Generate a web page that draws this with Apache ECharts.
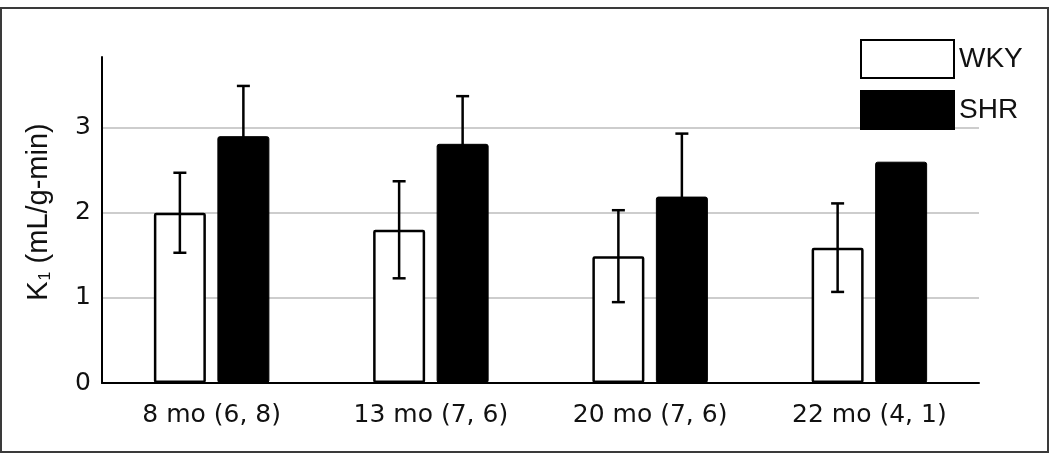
<!DOCTYPE html>
<html>
<head>
<meta charset="utf-8">
<script src="https://cdn.jsdelivr.net/npm/echarts@6/dist/echarts.min.js"></script>
<style>
html,body{margin:0;padding:0;background:#fff;}
#chart{width:1050px;height:455px;}
</style>
</head>
<body>
<div id="chart"></div>
<script>
// ---- data ----
const categories = ['8 mo (6, 8)', '13 mo (7, 6)', '20 mo (7, 6)', '22 mo (4, 1)'];
const seriesNames = ['WKY', 'SHR'];
const wkyValues = [2.00, 1.80, 1.49, 1.59];
const shrValues = [2.90, 2.81, 2.19, 2.60];
const wkyErrors = [0.47, 0.57, 0.54, 0.52];
const shrErrors = [0.59, 0.56, 0.74, 0];
const yTicks = [0, 1, 2, 3];

// ---- layout ----
const BAR_W = 52;
const BAR_GAP = 11.5;
const Y_MAX = 3.83;

const chart = echarts.init(document.getElementById('chart'), null, {renderer: 'canvas'});

function errorSeries(name, values, errors, side) {
  const data = values.map((v, i) => [i, v, errors[i]]);
  return {
    type: 'custom',
    name: name + ' err',
    z: 10,
    silent: true,
    data: data,
    renderItem: function (params, api) {
      const i = api.value(0), v = api.value(1), e = api.value(2);
      if (!e) return null;
      const off = side * (BAR_W + BAR_GAP) / 2;
      const top = api.coord([i, v + e]);
      const bot = api.coord([i, v - e]);
      const x = top[0] + off;
      const cap = 6.5;
      const st = {stroke: '#000', lineWidth: 2.5, fill: null};
      return {
        type: 'group',
        children: [
          {type: 'line', shape: {x1: x, y1: top[1], x2: x, y2: bot[1]}, style: st},
          {type: 'line', shape: {x1: x - cap, y1: top[1], x2: x + cap, y2: top[1]}, style: st},
          {type: 'line', shape: {x1: x - cap, y1: bot[1], x2: x + cap, y2: bot[1]}, style: st}
        ]
      };
    }
  };
}

const option = {
  backgroundColor: '#fff',
  animation: false,
  grid: {left: 102, right: 71, top: 57, bottom: 72},
  legend: {
    orient: 'vertical',
    left: 855,
    top: 34,
    itemWidth: 93,
    itemHeight: 38,
    itemGap: 11,
    icon: 'rect',
    data: seriesNames,
    textStyle: {fontFamily: 'Liberation Sans', fontSize: 28, color: '#111', padding: [-3, 0, 0, 0]}
  },
  xAxis: {
    type: 'category',
    data: categories,
    axisLine: {lineStyle: {color: '#000', width: 2}},
    axisTick: {show: false},
    axisLabel: {fontFamily: 'DejaVu Sans', fontSize: 25, color: '#111', margin: 20}
  },
  yAxis: {
    type: 'value',
    min: 0,
    max: Y_MAX,
    interval: 1,
    name: '{k|K}{s|1}{k| (mL/g-min)}',
    nameLocation: 'middle',
    nameGap: 46,
    nameRotate: 90,
    nameTextStyle: {
      fontFamily: 'Liberation Sans',
      fontSize: 29,
      color: '#111',
      padding: [0, 0, 0, 16],
      rich: {
        k: {fontFamily: 'Liberation Sans', fontSize: 29, color: '#111', lineHeight: 34},
        s: {fontFamily: 'Liberation Sans', fontSize: 16, color: '#111', lineHeight: 34, padding: [14, 0, 0, 1]}
      }
    },
    axisLine: {show: true, lineStyle: {color: '#000', width: 2}},
    axisTick: {show: false},
    axisLabel: {
      fontFamily: 'DejaVu Sans', fontSize: 25, color: '#111', margin: 11,
      formatter: function (v) { return yTicks.indexOf(v) >= 0 ? String(v) : ''; }
    },
    splitLine: {showMaxLine: false, lineStyle: {color: '#bdbdbd', width: 1.5}}
  },
  series: [
    {
      name: seriesNames[0],
      type: 'bar',
      data: wkyValues,
      barWidth: BAR_W,
      barGap: (BAR_GAP / BAR_W * 100) + '%',
      itemStyle: {color: '#fff', borderColor: '#000', borderWidth: 2.5, borderRadius: 1}
    },
    {
      name: seriesNames[1],
      type: 'bar',
      data: shrValues,
      barWidth: BAR_W,
      barGap: (BAR_GAP / BAR_W * 100) + '%',
      itemStyle: {color: '#000', borderColor: '#000', borderWidth: 1, borderRadius: 2}
    },
    errorSeries('WKY', wkyValues, wkyErrors, -1),
    errorSeries('SHR', shrValues, shrErrors, 1)
  ],
  graphic: [
    {
      type: 'rect',
      shape: {x: 1, y: 8, width: 1047, height: 444},
      style: {fill: null, stroke: '#3a3a3a', lineWidth: 2},
      z: 100,
      silent: true
    }
  ]
};
chart.setOption(option);
</script>
</body>
</html>
